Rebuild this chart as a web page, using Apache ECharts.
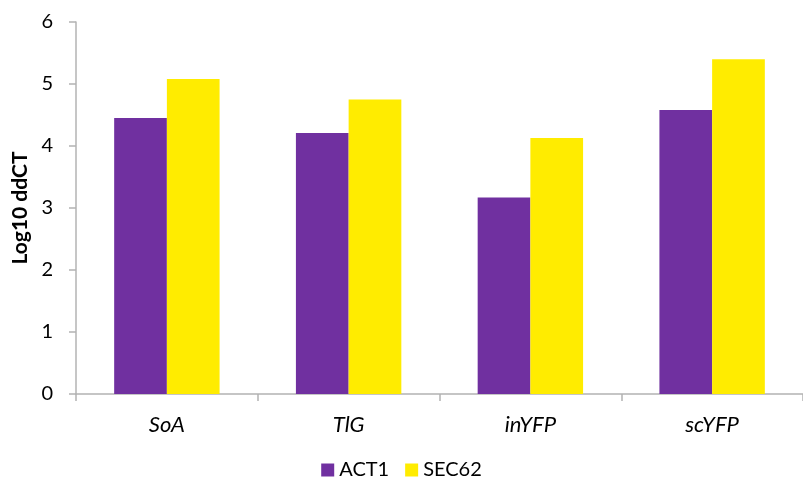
<!DOCTYPE html>
<html>
<head>
<meta charset="utf-8">
<script src="https://cdn.jsdelivr.net/npm/echarts@6/dist/echarts.min.js"></script>
<style>
  html, body { margin: 0; padding: 0; background: #fff; }
  #chart { width: 803px; height: 483px; }
</style>
</head>
<body>
<div id="chart"></div>
<script>
// Expression data: log10 ddCT per construct, normalised to two reference genes
const categories = ['SoA', 'TlG', 'inYFP', 'scYFP'];
const act1 = [4.45, 4.21, 3.17, 4.58];
const sec62 = [5.08, 4.75, 4.13, 5.40];
const yTicks = { min: 0, max: 6, interval: 1 };

const font = 'Lato, "Open Sans", sans-serif';
const axisGray = '#B3B3B3';

const chart = echarts.init(document.getElementById('chart'), null, { renderer: 'canvas' });
chart.setOption({
  animation: false,
  textStyle: { fontFamily: font },
  grid: { left: 76, right: 0, top: 22, bottom: 89, containLabel: false },
  legend: {
    bottom: -2,
    left: 'center',
    itemWidth: 13,
    itemHeight: 13,
    itemGap: 16,
    icon: 'rect',
    textStyle: { fontSize: 20, color: '#000', fontFamily: font },
    data: ['ACT1', 'SEC62']
  },
  xAxis: {
    type: 'category',
    data: categories,
    axisLine: { lineStyle: { color: axisGray, width: 1.5 } },
    axisTick: { show: true, length: 7, lineStyle: { color: axisGray, width: 1.5 } },
    axisLabel: { fontSize: 22, fontStyle: 'italic', color: '#000', margin: 20, fontFamily: font }
  },
  yAxis: {
    type: 'value',
    min: yTicks.min,
    max: yTicks.max,
    interval: yTicks.interval,
    name: 'Log10 ddCT',
    nameLocation: 'middle',
    nameGap: 43,
    nameTextStyle: { fontSize: 21, fontWeight: 'bold', color: '#000', fontFamily: font },
    axisLine: { show: true, lineStyle: { color: axisGray, width: 1.5 } },
    axisTick: { show: true, length: 7, lineStyle: { color: axisGray, width: 1.5 } },
    splitLine: { show: false },
    axisLabel: { fontSize: 20, color: '#000', margin: 23, fontFamily: font }
  },
  series: [
    {
      name: 'ACT1',
      type: 'bar',
      data: act1,
      barGap: '0%',
      barCategoryGap: '42%',
      itemStyle: { color: '#7030A0' }
    },
    {
      name: 'SEC62',
      type: 'bar',
      data: sec62,
      itemStyle: { color: '#FFEC00' }
    }
  ]
});
</script>
</body>
</html>
